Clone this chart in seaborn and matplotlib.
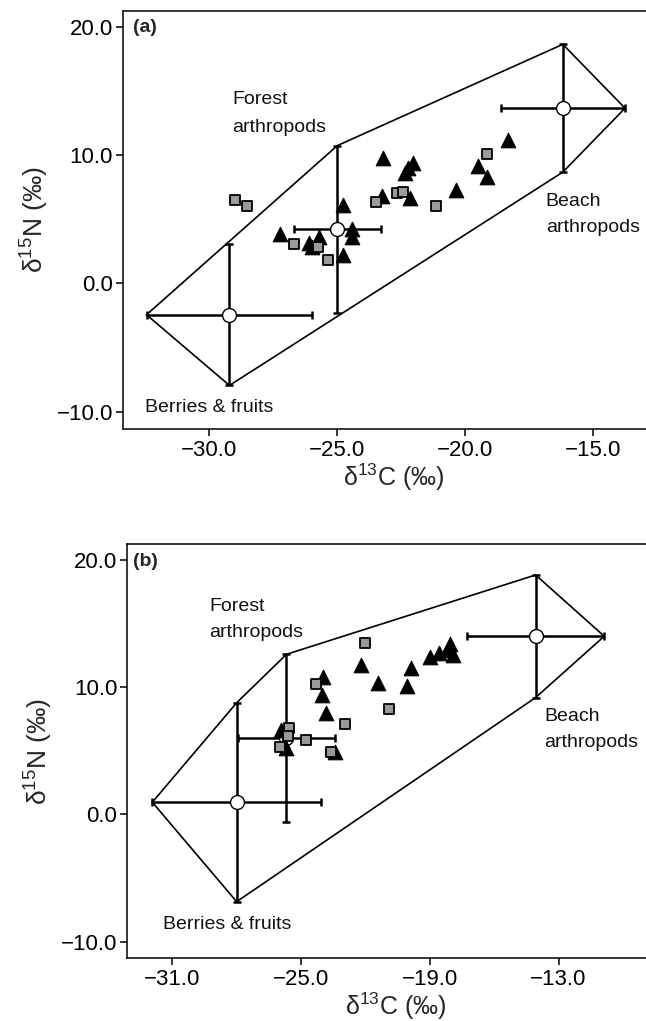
import numpy as np
import pandas as pd
import matplotlib
matplotlib.use("Agg")
import matplotlib.pyplot as plt
import seaborn as sns

# 主题与字体
sns.set_theme(style="white")
plt.rcParams['font.family'] = ['Liberation Sans', 'DejaVu Sans']
plt.rcParams['mathtext.fontset'] = 'custom'
plt.rcParams['mathtext.rm'] = 'Liberation Sans'
plt.rcParams['mathtext.default'] = 'rm'

# ---- panel (a) data ----
a_tri_x = [-27.25, -26.11, -25.71, -26.00, -24.79, -24.79, -24.41, -24.41, -23.27,
           -23.20, -22.36, -22.05, -22.23, -22.16, -20.37, -19.49, -19.16, -18.32]
a_tri_y = [3.82, 3.12, 3.59, 2.81, 6.10, 2.21, 4.21, 3.59, 6.80,
           9.74, 8.57, 9.35, 8.96, 6.67, 7.27, 9.17, 8.31, 11.17]
a_sq_x = [-29.00, -28.54, -26.69, -25.75, -25.35, -23.49, -22.68, -22.45, -21.16, -19.16]
a_sq_y = [6.49, 6.05, 3.04, 2.81, 1.82, 6.31, 7.01, 7.14, 6.03, 10.08]
a_src_x = [-29.21, -25.00, -16.19]
a_src_y = [-2.45, 4.22, 13.65]
a_src_sdx = [3.24, 1.70, 2.43]
a_src_sdy = [5.51, 6.51, 4.98]
a_xticks = [-30, -25, -20, -15]

# ---- panel (b) data ----
b_tri_x = [-25.93, -25.72, -23.99, -24.04, -23.85, -23.42, -22.22, -21.40, -20.08,
           -19.88, -18.99, -18.57, -18.06, -17.91, -18.14]
b_tri_y = [6.63, 5.19, 10.82, 9.38, 7.94, 4.92, 11.74, 10.30, 10.09,
           11.48, 12.39, 12.66, 13.36, 12.52, 12.92]
b_sq_x = [-22.02, -24.32, -22.95, -20.89, -24.78, -25.55, -25.59, -25.98, -23.60]
b_sq_y = [13.44, 10.24, 7.10, 8.28, 5.84, 6.76, 6.18, 5.27, 4.92]
b_src_x = [-28.00, -25.68, -14.07]
b_src_y = [0.95, 5.98, 14.00]
b_src_sdx = [3.93, 2.27, 3.20]
b_src_sdy = [7.82, 6.60, 4.82]
b_xticks = [-31, -25, -19, -13]

yticks = [-10, 0, 10, 20]


def hull(pts):
    # 凸包（单调链）
    pts = sorted(set(pts))

    def cross(o, a, b):
        return (a[0] - o[0]) * (b[1] - o[1]) - (a[1] - o[1]) * (b[0] - o[0])

    lower, upper = [], []
    for p in pts:
        while len(lower) >= 2 and cross(lower[-2], lower[-1], p) <= 0:
            lower.pop()
        lower.append(p)
    for p in reversed(pts):
        while len(upper) >= 2 and cross(upper[-2], upper[-1], p) <= 0:
            upper.pop()
        upper.append(p)
    return lower[:-1] + upper[:-1]


def fmt(v):
    return f"{v:.1f}".replace("-", "\u2212")


def draw_panel(ax, tri_x, tri_y, sq_x, sq_y, sx, sy, sdx, sdy, xticks, xlim, ylim,
               tag, labels):
    # 源的 mean±SD 端点 -> 凸包
    ends = []
    for mx, my, dx, dy in zip(sx, sy, sdx, sdy):
        ends += [(mx - dx, my), (mx + dx, my), (mx, my - dy), (mx, my + dy)]
    h = hull(ends)
    h.append(h[0])
    ax.plot([p[0] for p in h], [p[1] for p in h], color='black', lw=1.2, zorder=1)

    ax.errorbar(sx, sy, xerr=sdx, yerr=sdy, fmt='none', ecolor='black',
                elinewidth=1.8, capsize=3, capthick=1.8, zorder=2)
    src = pd.DataFrame({'x': sx, 'y': sy})
    sns.scatterplot(data=src, x='x', y='y', ax=ax, marker='o', s=100,
                    color='white', edgecolor='black', linewidth=1.0, zorder=3)

    tri = pd.DataFrame({'x': tri_x, 'y': tri_y})
    sq = pd.DataFrame({'x': sq_x, 'y': sq_y})
    sns.scatterplot(data=tri, x='x', y='y', ax=ax, marker='^', s=110,
                    color='black', edgecolor='black', linewidth=0.8, zorder=4)
    sns.scatterplot(data=sq, x='x', y='y', ax=ax, marker='s', s=58,
                    color='#9a9a9a', edgecolor='black', linewidth=1.3, zorder=5)

    for txt, x, y in labels:
        ax.text(x, y, txt, fontsize=14, ha='left', va='center', color='#111111')
    ax.text(tag[1], tag[2], tag[0], transform=ax.transAxes, fontsize=14,
            fontweight='bold', ha='left', va='center')

    ax.set_xlim(*xlim)
    ax.set_ylim(*ylim)
    ax.set_xticks(xticks)
    ax.set_xticklabels([fmt(v) for v in xticks])
    ax.set_yticks(yticks)
    ax.set_yticklabels([fmt(v) for v in yticks])
    ax.tick_params(direction='out', length=5, width=1.1, colors='black',
                   labelsize=16, pad=2, bottom=True, left=True)
    ax.tick_params(axis='x', pad=3)
    for s in ax.spines.values():
        s.set_color('black')
        s.set_linewidth(1.1)
    ax.set_xlabel(r"δ$^{13}$C (‰)", fontsize=18, labelpad=0)
    ax.set_ylabel(r"δ$^{15}$N (‰)", fontsize=19, labelpad=4)


W, H = 646, 1021
fig = plt.figure(figsize=(W / 100, H / 100), dpi=100)
fig.patch.set_facecolor('white')

ax_a = fig.add_axes([122.7 / W, 1 - 429.3 / H, (665 - 122.7) / W, (429.3 - 10.7) / H])
draw_panel(ax_a, a_tri_x, a_tri_y, a_sq_x, a_sq_y, a_src_x, a_src_y, a_src_sdx, a_src_sdy,
           a_xticks, (-33.38, -12.2), (-11.38, 21.25), ('(a)', 0.019, 0.961),
           [('Forest', -29.09, 14.29), ('arthropods', -29.09, 12.13),
            ('Beach', -16.86, 6.41), ('arthropods', -16.86, 4.33),
            ('Berries & fruits', -32.51, -9.66)])

ax_b = fig.add_axes([127 / W, 1 - 958.3 / H, (665 - 127) / W, (958.3 - 544.3) / H])
draw_panel(ax_b, b_tri_x, b_tri_y, b_sq_x, b_sq_y, b_src_x, b_src_y, b_src_sdx, b_src_sdy,
           b_xticks, (-33.11, -8.04), (-11.32, 21.23), ('(b)', 0.011, 0.958),
           [('Forest', -29.29, 16.32), ('arthropods', -29.29, 14.28),
            ('Beach', -13.67, 7.73), ('arthropods', -13.67, 5.66),
            ('Berries & fruits', -31.42, -8.70)])

fig.savefig('out.png', dpi=100, facecolor='white')
